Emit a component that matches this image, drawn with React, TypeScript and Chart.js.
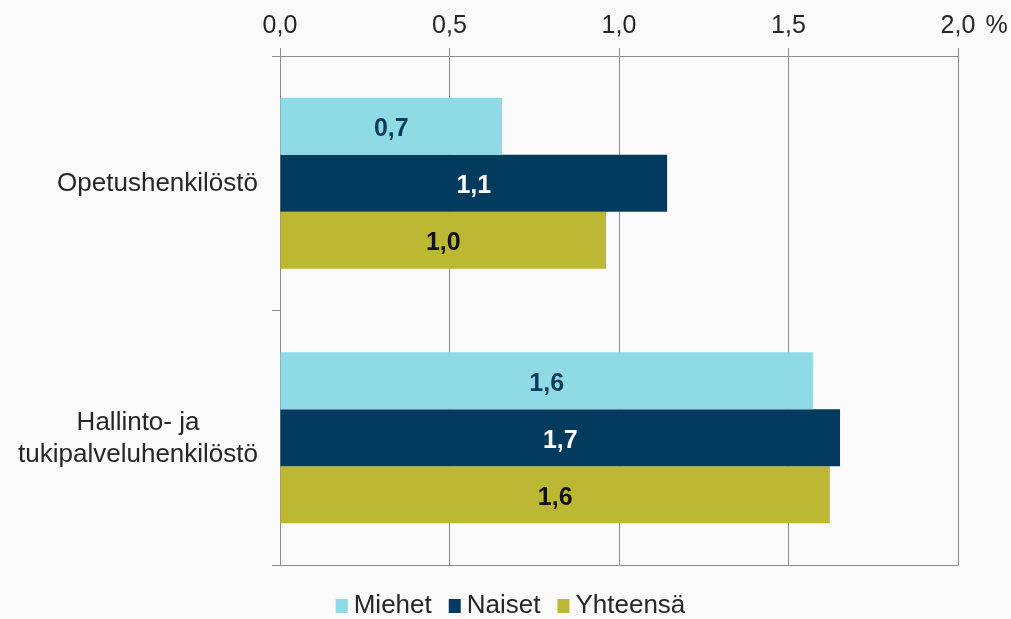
import React, { useEffect, useRef } from "react";
import { Chart, registerables } from "chart.js";

Chart.register(...registerables);

const categories: string[][] = [["Opetushenkilöstö"], ["Hallinto- ja", "tukipalveluhenkilöstö"]];
const seriesNames = ["Miehet", "Naiset", "Yhteensä"];
const miehet = [0.655, 1.572];
const naiset = [1.142, 1.652];
const yhteensa = [0.962, 1.622];
const xMin = 0;
const xMax = 2.0;
const xStep = 0.5;
const unitLabel = "%";

const barColors = ["#8EDBE5", "#033B5E", "#BDB833"];
const valueLabelColors = ["#0B3A5C", "#FFFFFF", "#111111"];
const GRID = "#8C8C8C";
const TEXT = "#262626";
const FONT = "'Liberation Sans', Arial, sans-serif";
const TICK_PAD = 7;

const fmt = (v: number) => v.toFixed(1).replace(".", ",");

const customPlugin = {
  id: "customDraw",
  afterDraw(chart: any) {
    const ctx: CanvasRenderingContext2D = chart.ctx;
    const { left, right, top, bottom } = chart.chartArea;
    ctx.save();

    // bottom border line
    ctx.strokeStyle = GRID;
    ctx.lineWidth = 1;
    const by = Math.round(bottom) + 0.5;
    ctx.beginPath();
    ctx.moveTo(left, by);
    ctx.lineTo(right + 0.5, by);
    ctx.stroke();

    // value labels
    ctx.font = `bold 25px ${FONT}`;
    ctx.textAlign = "center";
    ctx.textBaseline = "middle";
    chart.data.datasets.forEach((ds: any, i: number) => {
      const meta = chart.getDatasetMeta(i);
      meta.data.forEach((bar: any, j: number) => {
        const p = bar.getProps(["x", "y", "base"], true);
        ctx.fillStyle = valueLabelColors[i];
        ctx.fillText(fmt(ds.data[j]), (p.x + p.base) / 2, p.y + 3);
      });
    });

    // category labels
    const yScale = chart.scales.y;
    ctx.font = `26px ${FONT}`;
    ctx.fillStyle = TEXT;
    ctx.textAlign = "center";
    ctx.textBaseline = "middle";
    const lh = 32;
    categories.forEach((lines, j) => {
      const cy = yScale.getPixelForValue(j);
      const maxW = Math.max(...lines.map((l) => ctx.measureText(l).width));
      const cx = left - 22 - maxW / 2;
      const startY = cy - ((lines.length - 1) * lh) / 2;
      lines.forEach((l, k) => ctx.fillText(l, cx, startY + k * lh + 1));
    });

    // unit sign after the last x tick
    const xScale = chart.scales.x;
    ctx.font = `25px ${FONT}`;
    ctx.textAlign = "left";
    const lastPx = xScale.getPixelForValue(xMax);
    const lastW = ctx.measureText(fmt(xMax)).width;
    ctx.fillText(unitLabel, lastPx + lastW / 2 + 10, top - 8 - TICK_PAD - 15);

    // legend
    ctx.font = `26px ${FONT}`;
    ctx.textBaseline = "middle";
    const box = 12;
    const gapBoxText = 6;
    const gapItems = 17;
    const widths = seriesNames.map((n) => ctx.measureText(n).width);
    const total =
      widths.reduce((a, b) => a + b, 0) + seriesNames.length * (box + gapBoxText) + (seriesNames.length - 1) * gapItems;
    let x = chart.width / 2 + 5 - total / 2;
    const ly = 606;
    seriesNames.forEach((n, i) => {
      ctx.fillStyle = barColors[i];
      ctx.fillRect(x, ly - 7, box, 14);
      x += box + gapBoxText;
      ctx.fillStyle = TEXT;
      ctx.fillText(n, x, ly);
      x += widths[i] + gapItems;
    });

    ctx.restore();
  },
};

export default function App() {
  const ref = useRef<HTMLCanvasElement | null>(null);

  useEffect(() => {
    document.body.style.margin = "0";
    document.body.style.background = "#FAFAFA";
    if (!ref.current) return;
    const chart = new Chart(ref.current, {
      type: "bar",
      data: {
        labels: categories.map((c) => c.join(" ")),
        datasets: [
          { label: seriesNames[0], data: miehet, backgroundColor: barColors[0] },
          { label: seriesNames[1], data: naiset, backgroundColor: barColors[1] },
          { label: seriesNames[2], data: yhteensa, backgroundColor: barColors[2] },
        ],
      },
      options: {
        indexAxis: "y",
        animation: false,
        responsive: true,
        maintainAspectRatio: false,
        layout: { padding: { left: 0, right: 53, top: 0, bottom: 54 } },
        datasets: {
          bar: { categoryPercentage: 0.672, barPercentage: 1.0, borderWidth: 0 },
        },
        plugins: {
          legend: { display: false },
          tooltip: { enabled: false },
        },
        scales: {
          x: {
            position: "top",
            min: xMin,
            max: xMax,
            afterFit: (s: any) => {
              s.height = 56;
            },
            ticks: {
              stepSize: xStep,
              padding: TICK_PAD,
              color: TEXT,
              font: { family: FONT, size: 25 },
              callback: (v: any) => fmt(Number(v)),
            },
            grid: { color: GRID, lineWidth: 1, tickLength: 8, drawTicks: true },
            border: { display: true, color: GRID, width: 1 },
          },
          y: {
            afterFit: (s: any) => {
              s.width = 280;
            },
            ticks: { display: false },
            grid: {
              offset: true,
              drawOnChartArea: false,
              drawTicks: true,
              tickLength: 8,
              color: GRID,
              lineWidth: 1,
            },
            border: { display: true, color: GRID, width: 1 },
          },
        },
      },
      plugins: [customPlugin],
    });
    return () => chart.destroy();
  }, []);

  return (
    <div style={{ width: 1011, height: 619, position: "relative" }}>
      <canvas ref={ref} />
    </div>
  );
}
